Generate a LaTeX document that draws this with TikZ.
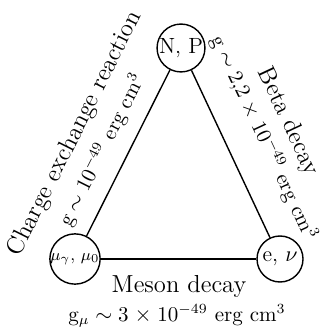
\documentclass[tikz,border=0pt]{standalone}
\begin{document}
\begin{tikzpicture}[x=0.5pt,y=-0.5pt,
  particle/.style={draw, circle, line width=0.7pt, minimum size=23pt, inner sep=0pt, font=\fontsize{11}{13}\selectfont},
  edge/.style={line width=0.7pt},
  lbl/.style={inner sep=0pt, font=\fontsize{12.3}{14}\selectfont},
  frm/.style={inner sep=0pt, font=\fontsize{10.5}{13}\selectfont}]
\useasboundingbox (0,0) rectangle (321,330);
\node[particle] (np) at (181,48) {N, P};
\node[particle] (mu) at (75,259) {\fontsize{8.5}{9}\selectfont$\mu_\gamma$, $\mu_0$};
\node[particle] (ev) at (280,259) {e, $\nu$};
\draw[edge] (mu) -- (np);
\draw[edge] (np) -- (ev);
\draw[edge] (mu) -- (ev);
\node[lbl, rotate=63.3] (cer) at (75,134) {Charge exchange reaction};
\node[frm, rotate=63.3] (gl) at (102,150) {g\;$\sim$\;10$^{-49}$ erg cm$^3$};
\node[lbl, rotate=-64.9] (bd) at (288,122) {Beta decay};
\node[frm, rotate=-64.9] (gr) at (264,138) {g\;$\sim$\;2,2\;$\times$\;10$^{-49}$ erg cm$^3$};
\node[lbl] (md) at (179,286) {Meson decay};
\node[frm] (gb) at (177,316) {g$_\mu$\;$\sim$\;3\;$\times$\;10$^{-49}$ erg cm$^3$};
\end{tikzpicture}
\end{document}
